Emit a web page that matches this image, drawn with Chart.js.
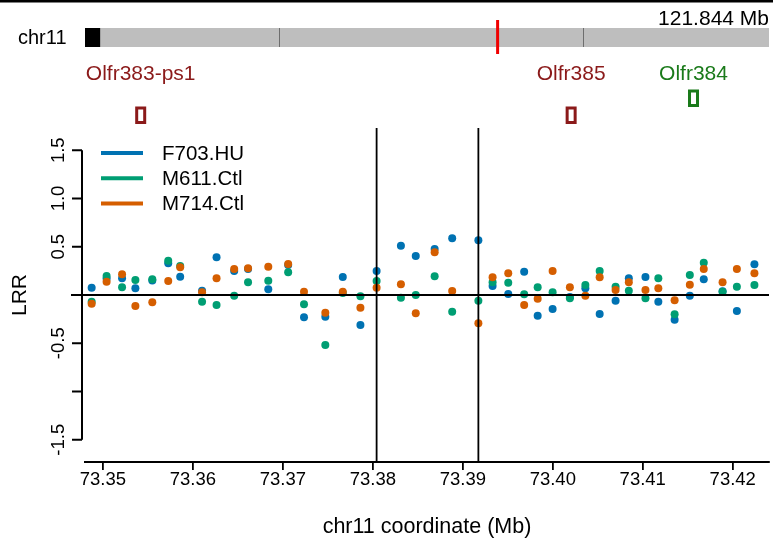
<!DOCTYPE html>
<html><head><meta charset="utf-8">
<script src="https://cdn.jsdelivr.net/npm/chart.js@4"></script>
<style>html,body{margin:0;padding:0;background:#fff;}canvas{display:block;}</style>
</head><body>
<canvas id="c" width="773" height="548"></canvas>
<script>
// ---- data ----
const positions = [73.34875,73.35041,73.35213,73.35361,73.35549,73.35726,73.35859,73.36102,73.36263,73.36459,
  73.36613,73.36838,73.37059,73.37235,73.37472,73.37666,73.37862,73.38042,73.38312,73.38477,
  73.38687,73.38882,73.39173,73.39331,73.39505,73.39682,73.39832,73.39998,73.40190,73.40362,
  73.40521,73.40698,73.40845,73.41030,73.41173,73.41354,73.41523,73.41678,73.41887,73.42046,73.42241];
const f703 = [0.076,0.17,0.173,0.069,0.15,0.328,0.19,0.045,0.39,0.249,
  0.27,0.059,0.31,-0.231,-0.225,0.187,-0.31,0.249,0.511,0.404,
  0.477,0.588,0.567,0.093,0.01,0.242,-0.214,-0.145,-0.02,0.069,
  -0.197,-0.059,0.173,0.187,-0.069,-0.256,-0.007,0.163,0.04,-0.166,0.318];
const m611 = [-0.069,0.197,0.08,0.155,0.163,0.356,0.30,-0.069,-0.104,-0.007,
  0.131,0.148,0.235,-0.096,-0.518,0.02,-0.013,0.145,-0.028,0.0,
  0.194,-0.173,-0.059,0.131,0.128,0.007,0.08,0.028,-0.034,0.104,
  0.249,0.086,0.045,-0.034,0.173,-0.2,0.207,0.335,0.034,0.086,0.104];
const m714 = [-0.09,0.138,0.214,-0.114,-0.076,0.145,0.287,0.028,0.173,0.27,
  0.276,0.293,0.321,0.034,-0.183,0.034,-0.131,0.076,0.111,-0.19,
  0.442,0.041,-0.293,0.183,0.225,-0.104,-0.038,0.249,0.08,-0.007,
  0.183,0.052,0.131,0.052,0.069,-0.055,0.107,0.27,0.131,0.27,0.225];
const seriesNames = ['F703.HU','M611.Ctl','M714.Ctl'];
const xTicks = [73.35,73.36,73.37,73.38,73.39,73.40,73.41,73.42];
const yTicks = [1.5,1.0,0.5,0,-0.5,-1.0,-1.5];
const yTickLabels = ['1.5','1.0','0.5','','-0.5','','-1.5'];
const breakpoints = [73.38042,73.39173];
const geneNames = ['Olfr383-ps1','Olfr385','Olfr384'];
const geneCenters = [73.3542,73.40204,73.41564];
const geneRows = [0,0,1];
const chrName = 'chr11';
const chrLengthMb = 121.844;
const chrCentromereEndMb = 2.7;
const chrBandBreaksMb = [34.6,88.7];
const regionMb = 73.5;

// ---- styles ----
const colors = ['#0072B2','#009E73','#D55E00'];
const geneColors = ['#8B1A1A','#8B1A1A','#1A7A1A'];
const FONT = '"Liberation Sans", Arial, sans-serif';

const overlay = {
  id:'overlay',
  beforeDraw(chart){
    const c = chart.ctx; c.save();
    c.fillStyle='#fff'; c.fillRect(0,0,chart.width,chart.height);
    c.restore();
  },
  afterDatasetsDraw(chart){
    const c = chart.ctx, xs = chart.scales.x, ys = chart.scales.y, a = chart.chartArea;
    c.save();
    c.strokeStyle='#000'; c.lineWidth=1.8;
    // zero line
    c.beginPath(); c.moveTo(71, ys.getPixelForValue(0)); c.lineTo(a.right, ys.getPixelForValue(0)); c.stroke();
    // breakpoints
    breakpoints.forEach(b=>{ const px = xs.getPixelForValue(b);
      c.beginPath(); c.moveTo(px,a.top); c.lineTo(px,a.bottom); c.stroke(); });
    // y axis (R style)
    const yx = 82;
    c.lineWidth=2;
    c.beginPath(); c.moveTo(yx, ys.getPixelForValue(yTicks[0])); c.lineTo(yx, ys.getPixelForValue(yTicks[yTicks.length-1])); c.stroke();
    c.font = '18.5px '+FONT; c.fillStyle='#000'; c.textAlign='center'; c.textBaseline='middle';
    yTicks.forEach((t,i)=>{ const py = ys.getPixelForValue(t);
      c.beginPath(); c.moveTo(yx,py); c.lineTo(72,py); c.stroke();
      if (yTickLabels[i]) { c.save(); c.translate(58,py); c.rotate(-Math.PI/2); c.fillText(yTickLabels[i],0,1); c.restore(); }
    });
    // legend
    c.font = '20.5px '+FONT; c.textAlign='left';
    seriesNames.forEach((n,i)=>{ const ly = 153 + i*25.3;
      c.strokeStyle = colors[i]; c.lineWidth=4;
      c.beginPath(); c.moveTo(101,ly); c.lineTo(143,ly); c.stroke();
      c.fillStyle='#000'; c.fillText(n,162,ly+1);
    });
    // top border
    c.fillStyle='#000'; c.fillRect(0,0,chart.width,2.5);
    // ideogram
    const L = a.left, R = a.right, top = 28, h = 19;
    const mb2px = mb => L + (R-L)*mb/chrLengthMb;
    c.fillStyle='#BEBEBE'; c.fillRect(L,top,R-L,h);
    c.fillStyle='#000'; c.fillRect(L,top,mb2px(chrCentromereEndMb)-L,h);
    c.strokeStyle='#6E6E6E'; c.lineWidth=1;
    chrBandBreaksMb.forEach(b=>{ const px=Math.round(mb2px(b))+0.5; c.beginPath(); c.moveTo(px,top); c.lineTo(px,top+h); c.stroke(); });
    c.strokeStyle='#F00000'; c.lineWidth=3;
    const rp = mb2px(regionMb); c.beginPath(); c.moveTo(rp,20); c.lineTo(rp,54); c.stroke();
    c.fillStyle='#000'; c.font='20px '+FONT; c.textAlign='left'; c.fillText(chrName,18,38);
    c.textAlign='right'; c.font='21px '+FONT; c.fillText(chrLengthMb.toFixed(3)+' Mb',769,19);
    // genes
    c.font='21px '+FONT; c.textAlign='center';
    geneNames.forEach((g,i)=>{ const px = xs.getPixelForValue(geneCenters[i]);
      c.fillStyle=geneColors[i]; c.fillText(g,px,74);
      c.strokeStyle=geneColors[i]; c.lineWidth=3;
      const by = geneRows[i]===0 ? 108 : 91;
      c.strokeRect(px-4,by,8,14.5);
    });
    c.restore();
  }
};

const mk = (vals,i,order)=>({label:seriesNames[i], data:positions.map((x,k)=>({x,y:vals[k]})),
  backgroundColor:colors[i], borderColor:colors[i], borderWidth:0, pointRadius:4, pointHoverRadius:4, order});

new Chart(document.getElementById('c'),{
  type:'scatter',
  data:{datasets:[mk(f703,0,3),mk(m611,1,2),mk(m714,2,1)]},
  options:{
    responsive:false, animation:false, devicePixelRatio:1,
    layout:{padding:{left:0,top:128,right:0,bottom:0}},
    plugins:{legend:{display:false},tooltip:{enabled:false}},
    scales:{
      x:{type:'linear', min:73.34801, max:73.42403,
        afterFit(s){s.height=86;},
        afterBuildTicks(s){s.ticks = xTicks.map(v=>({value:v}));},
        border:{display:true,color:'#000',width:2},
        grid:{drawOnChartArea:false,drawTicks:true,tickLength:8,color:'#000',lineWidth:1.8},
        ticks:{color:'#000',font:{family:FONT,size:18.5},padding:-1,maxRotation:0,autoSkip:false,callback:v=>Number(v).toFixed(2)},
        title:{display:true,text:'chr11 coordinate (Mb)',color:'#000',font:{family:FONT,size:21.5},padding:{top:0,bottom:8.4}}
      },
      y:{type:'linear', min:-1.7306, max:1.7306,
        afterFit(s){s.width=85;},
        border:{display:false}, grid:{display:false}, ticks:{display:false},
        title:{display:true,text:'LRR',color:'#000',font:{family:FONT,size:21},padding:{top:7.4,bottom:0}}
      }
    }
  },
  plugins:[overlay]
});
</script>
</body></html>
